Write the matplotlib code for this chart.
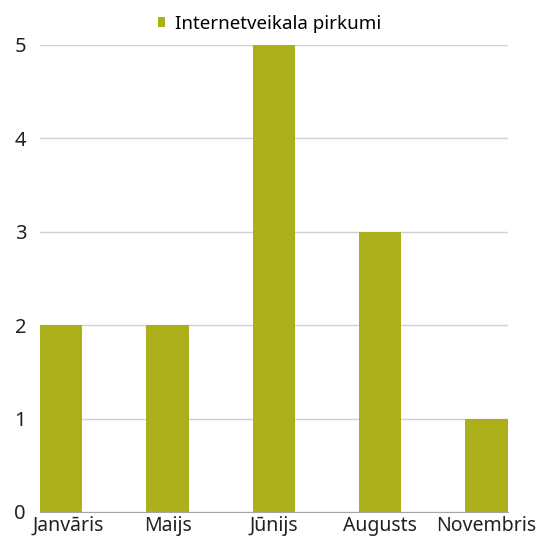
import matplotlib
matplotlib.use("Agg")
import matplotlib.pyplot as plt
from matplotlib.transforms import ScaledTranslation

categories = ["Janvāris", "Maijs", "Jūnijs", "Augusts", "Novembris"]
values = [2, 2, 5, 3, 1]
series_name = "Internetveikala pirkumi"
yticks = [0, 1, 2, 3, 4, 5]

plt.rcParams['font.family'] = ['Noto Sans', 'DejaVu Sans']

fig = plt.figure(figsize=(5.55, 5.4), dpi=100)
ax = fig.add_axes([0.072, 0.052, 0.843, 0.865])
x = list(range(len(categories)))
ax.bar(x, values, width=0.4, color="#abb01a", label=series_name, zorder=3)
ax.set_xlim(-0.2, len(categories) - 1 + 0.2)
ax.set_ylim(0, 5)
ax.set_yticks(yticks)
ax.set_xticks(x)
ax.set_xticklabels(categories, fontsize=14, color="#222222")
ax.tick_params(axis='y', labelsize=14.5, colors="#222222", length=0, pad=10)
ax.tick_params(axis='x', length=0, pad=3)
labels = ax.get_xticklabels()
labels[0].set_transform(labels[0].get_transform() + ScaledTranslation(7/100, 0, fig.dpi_scale_trans))
ax.grid(axis='y', color="#d0d0d0", linewidth=1, zorder=0)
for s in ["top", "right", "left"]:
    ax.spines[s].set_visible(False)
ax.spines["bottom"].set_color("#a6a6a6")
ax.spines["bottom"].set_zorder(4)
ax.legend(loc="lower center", bbox_to_anchor=(0.49, 1.0), frameon=False, fontsize=13.5,
          handlelength=0.4, handleheight=0.4, handletextpad=0.5, borderaxespad=0.25)
fig.savefig("out.png", dpi=100)
